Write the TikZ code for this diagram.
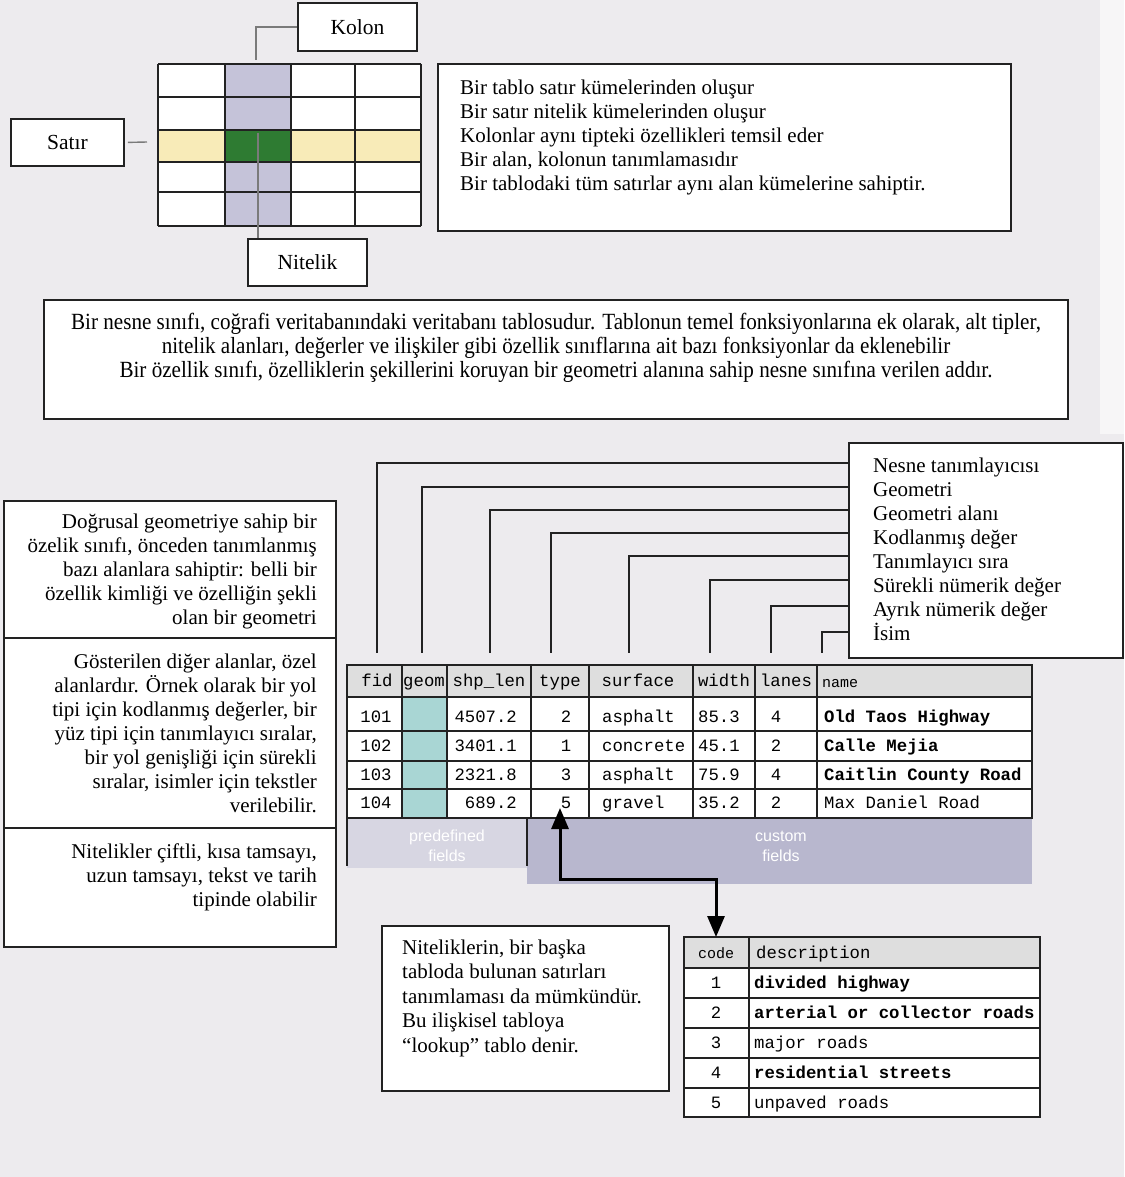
\documentclass[tikz,border=0pt]{standalone}
\usepackage{fontspec}
\setmainfont{Liberation Serif}
\setmonofont{Liberation Mono}
\setsansfont{Liberation Sans}
\newfontfamily\narrowserif[FakeStretch=0.91]{Liberation Serif}
\usetikzlibrary{arrows.meta,calc}

\definecolor{pagebg}{HTML}{EDEBEE}
\definecolor{pageedge}{HTML}{F7F6F7}
\definecolor{colpurple}{HTML}{C5C3D9}
\definecolor{rowyellow}{HTML}{F8EBB8}
\definecolor{cellgreen}{HTML}{2E7B32}
\definecolor{headgray}{HTML}{DEDEDE}
\definecolor{geomteal}{HTML}{A9D6D4}
\definecolor{predefband}{HTML}{D7D6E2}
\definecolor{customband}{HTML}{B8B7CE}
\definecolor{inkline}{HTML}{222222}
\definecolor{leadgray}{HTML}{7A7A7A}

\newcommand\mkbox[5]{\node[box,minimum width=#4pt,minimum height=#5pt] (#1) at (#2,#3) {};}

\begin{document}
\begin{tikzpicture}[x=1pt,y=-1pt,
  box/.style={draw=inkline,line width=1.8pt,fill=white,inner sep=0pt,anchor=north west},
  para/.style={inner sep=0pt,font=\fontsize{21}{24}\selectfont},
  lbl/.style={inner sep=0pt,font=\fontsize{21.5}{24}\selectfont},
  lead/.style={draw=inkline,line width=1.5pt},
  glead/.style={draw=leadgray,line width=1.4pt},
  gridline/.style={draw=inkline,line width=1.6pt},
  tline/.style={draw=inkline,line width=1.5pt},
  mono/.style={inner sep=0pt,font=\ttfamily\fontsize{17.3}{20}\selectfont},
  monosm/.style={inner sep=0pt,font=\ttfamily\fontsize{15}{18}\selectfont},
  bandtxt/.style={inner sep=0pt,text=white,font=\sffamily\fontsize{16}{20}\selectfont,align=center},
  dblarrow/.style={draw=black,line width=3pt,{Triangle[width=17pt,length=21pt]}-{Triangle[width=17pt,length=21pt]}}
]
\useasboundingbox (0,0) rectangle (1124,1177);
\fill[pagebg] (0,0) rectangle (1124,1177);
\fill[pageedge] (1100,0) rectangle (1124,434);

% ---------- small table: rows, columns, field ----------
\fill[white] (158,64) rectangle (421,226);
\fill[colpurple] (225,64) rectangle (291,226);
\fill[rowyellow] (158,130) rectangle (421,162);
\fill[cellgreen] (225,130) rectangle (291,162);
\foreach \gx in {158,225,291,355,421} \draw[gridline] (\gx,64) -- (\gx,226);
\foreach \gy in {64,97,130,162,192,226} \draw[gridline] (158,\gy) -- (421,\gy);
\node[inner sep=0pt,minimum width=263pt,minimum height=162pt,anchor=north west] (grid) at (158,64) {};

\mkbox{kolon}{297}{2}{119}{48}
\node[lbl] (kolontxt) at (kolon.center) {Kolon};
\mkbox{satir}{10}{118}{113}{47}
\node[lbl] (satirtxt) at (satir.center) {Satır};
\mkbox{nitelik}{247}{238}{119}{47}
\node[lbl] (niteliktxt) at (nitelik.center) {Nitelik};

\coordinate (kcol) at (256,60);
\coordinate (srow) at (147,142);
\coordinate (ncell) at (258,133);
\draw[glead] (kolon.west) -| (kcol);
\draw[glead] ([xshift=3pt]satir.east) -- (srow);
\draw[glead] (ncell) -- (ncell |- nitelik.north);

% ---------- explanation boxes ----------
\mkbox{rules}{437}{63}{573}{167}
\node[para,anchor=north west,align=left] (rulestxt) at (460,78) {\rule{0pt}{16pt}Bir tablo satır kümelerinden oluşur\\
Bir satır nitelik kümelerinden oluşur\\
Kolonlar aynı tipteki özellikleri temsil eder\\
Bir alan, kolonun tanımlamasıdır\\
Bir tablodaki tüm satırlar aynı alan kümelerine sahiptir.};

\mkbox{classbox}{43}{299}{1024}{119}
\node[para,anchor=north,align=center,font=\narrowserif\fontsize{23.2}{24}\selectfont] (classtxt) at (556,313) {\rule{0pt}{16pt}Bir nesne sınıfı, coğrafi veritabanındaki veritabanı tablosudur. Tablonun temel fonksiyonlarına ek olarak, alt tipler,\\
nitelik alanları, değerler ve ilişkiler gibi özellik sınıflarına ait bazı fonksiyonlar da eklenebilir\\
Bir özellik sınıfı, özelliklerin şekillerini koruyan bir geometri alanına sahip nesne sınıfına verilen addır.};

\mkbox{leftA}{3}{500}{332}{137}
\mkbox{leftB}{3}{637}{332}{190}
\mkbox{leftC}{3}{827}{332}{119}
\node[para,anchor=north east,align=right] (leftAtxt) at (317,512) {\rule{0pt}{16pt}Doğrusal geometriye sahip bir\\
özelik sınıfı, önceden tanımlanmış\\
bazı alanlara sahiptir: belli bir\\
özellik kimliği ve özelliğin şekli\\
olan bir geometri};
\node[para,anchor=north east,align=right] (leftBtxt) at (317,652) {\rule{0pt}{16pt}Gösterilen diğer alanlar, özel\\
alanlardır. Örnek olarak bir yol\\
tipi için kodlanmış değerler, bir\\
yüz tipi için tanımlayıcı sıralar,\\
bir yol genişliği için sürekli\\
sıralar, isimler için tekstler\\
verilebilir.};
\node[para,anchor=north east,align=right] (leftCtxt) at (317,842) {\rule{0pt}{16pt}Nitelikler çiftli, kısa tamsayı,\\
uzun tamsayı, tekst ve tarih\\
tipinde olabilir};

% ---------- field legend ----------
\mkbox{legend}{848}{442}{274}{215}
\node[para,anchor=north west,align=left] (legendtxt) at (873,456) {\rule{0pt}{16pt}Nesne tanımlayıcısı\\
Geometri\\
Geometri alanı\\
Kodlanmış değer\\
Tanımlayıcı sıra\\
Sürekli nümerik değer\\
Ayrık nümerik değer\\
İsim};

\foreach \k/\lx/\ly in {1/377/463,2/422/487,3/490/510,4/551/533,5/629/556,6/710/580,7/771/606,8/822/632}{
  \coordinate (lsrc\k) at (legend.west |- 0,\ly);
  \coordinate (ldst\k) at (\lx,653);
  \draw[lead] (lsrc\k) -| (ldst\k);
}

% ---------- roads feature class table ----------
\fill[headgray] (347,665) rectangle (1032,697);
\fill[white] (347,697) rectangle (1032,818);
\fill[geomteal] (402,697) rectangle (447,818);
\fill[predefband] (347,818) rectangle (527,868);
\fill[customband] (527,818) rectangle (1032,884);
\foreach \cx in {402,447,531,589,693,755,817} \draw[tline] (\cx,665) -- (\cx,818);
\foreach \ry in {697,731,761,789} \draw[tline] (347,\ry) -- (1032,\ry);
\draw[inkline,line width=2.2pt] (347,665) rectangle (1032,818);
\draw[tline] (347,818) -- (347,866);
\draw[tline] (527,818) -- (527,866);
\node[inner sep=0pt,minimum width=685pt,minimum height=153pt,anchor=north west] (roads) at (347,665) {};

\node[bandtxt] (predef) at (447,846) {predefined\\fields};
\node[bandtxt] (custom) at (781,846) {custom\\fields};

% header row
\foreach \hn/\hx/\hlabel in {h1/377/fid,h2/424/geom,h3/489/shp\_len,h4/560/type,h5/638/surface,h6/724/width,h7/786/lanes}
  \node[mono,anchor=base] (\hn) at (\hx,686) {\hlabel};
\node[monosm,anchor=base west] (h8) at (822,687) {name};

% body rows
\foreach \rw/\by/\vfid/\vlen/\vtyp/\vsurf/\vwid/\vlan/\vname in {
  1/722/101/4507.2/2/asphalt/85.3/4/{\bfseries Old Taos Highway},
  2/751/102/3401.1/1/concrete/45.1/2/{\bfseries Calle Mejia},
  3/780/103/2321.8/3/asphalt/75.9/4/{\bfseries Caitlin County Road},
  4/808/104/689.2/5/gravel/35.2/2/{Max Daniel Road}}{
  \node[mono,anchor=base] (fid\rw) at (376,\by) {\vfid};
  \node[mono,anchor=base east] (len\rw) at (517,\by) {\vlen};
  \node[mono,anchor=base] (typ\rw) at (566,\by) {\vtyp};
  \node[mono,anchor=base west] (srf\rw) at (602,\by) {\vsurf};
  \node[mono,anchor=base west] (wid\rw) at (698,\by) {\vwid};
  \node[mono,anchor=base] (lan\rw) at (776,\by) {\vlan};
  \node[mono,anchor=base west] (nam\rw) at (824,\by) {\vname};
}

% ---------- lookup table ----------
\mkbox{lookupnote}{381}{925}{287}{165}
\node[para,anchor=north west,align=left,font=\fontsize{21}{24.5}\selectfont] (lookupnotetxt) at (402,938) {\rule{0pt}{16pt}Niteliklerin, bir başka\\
tabloda bulunan satırları\\
tanımlaması da mümkündür.\\
Bu ilişkisel tabloya\\
“lookup” tablo denir.};

\fill[white] (684,937) rectangle (1040,1117);
\fill[headgray] (684,937) rectangle (1040,968);
\foreach \ry in {968,998,1028,1058,1088} \draw[tline] (684,\ry) -- (1040,\ry);
\draw[tline] (749,937) -- (749,1117);
\draw[inkline,line width=2.2pt] (684,937) rectangle (1040,1117);
\node[inner sep=0pt,minimum width=356pt,minimum height=180pt,anchor=north west] (lookup) at (684,937) {};

\node[monosm,anchor=base] (lkh1) at (716,958) {code};
\node[mono,anchor=base west] (lkh2) at (756,958) {description};
\foreach \rw/\by/\dsc in {1/988/{\bfseries divided highway},2/1018/{\bfseries arterial or collector roads},3/1048/{major roads},4/1078/{\bfseries residential streets},5/1108/{unpaved roads}}{
  \node[mono,anchor=base] (code\rw) at (716,\by) {\rw};
  \node[mono,anchor=base west] (desc\rw) at (754,\by) {\dsc};
}

% ---------- relation between the type field and the lookup table ----------
\coordinate (typetip) at (560,808);
\coordinate (lookuptip) at (716,937);
\draw[dblarrow] (typetip) -- (560,879) -| (lookuptip);

\end{tikzpicture}
\end{document}
